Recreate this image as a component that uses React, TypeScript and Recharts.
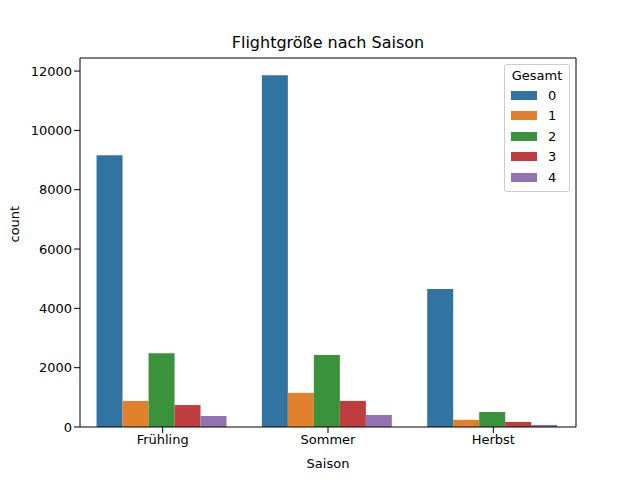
import React from 'react';
import { BarChart, Bar, XAxis, YAxis } from 'recharts';

const seasons = ['Frühling', 'Sommer', 'Herbst'];
const groups = ['0', '1', '2', '3', '4'];
const colors = ['#3274a1', '#e1812c', '#3a923a', '#c03d3e', '#9372b2'];
const g0 = [9160, 11860, 4650];
const g1 = [880, 1150, 240];
const g2 = [2490, 2430, 505];
const g3 = [740, 880, 170];
const g4 = [370, 405, 70];
const yTicks = [0, 2000, 4000, 6000, 8000, 10000, 12000];

const series = [g0, g1, g2, g3, g4];
const data = seasons.map((s, i) => {
  const row: any = { season: s };
  groups.forEach((g, j) => (row[g] = series[j][i]));
  return row;
});

const LegendBox = () => (
  <div style={{ position: 'absolute', left: 504, top: 64, width: 66, border: '1px solid #ccc', borderRadius: 3, background: '#fff', padding: '3px 6px', fontSize: 13, color: '#000', boxSizing: 'border-box' }}>
    <div style={{ textAlign: 'center', marginBottom: 2 }}>Gesamt</div>
    {groups.map((g, i) => (
      <div key={g} style={{ display: 'flex', alignItems: 'center', height: 20.5 }}>
        <span style={{ width: 26, height: 9, background: colors[i], display: 'inline-block', marginRight: 11 }} />
        <span>{g}</span>
      </div>
    ))}
  </div>
);

export default function App() {
  return (
    <div style={{ position: 'fixed', top: 0, left: 0, width: 640, height: 480, background: '#fff', fontFamily: 'DejaVu Sans' }}>
      <div style={{ position: 'absolute', top: 33, left: 80, width: 496, textAlign: 'center', fontSize: 16 }}>Flightgröße nach Saison</div>
      <BarChart width={640} height={480} data={data} margin={{ top: 58, right: 64, bottom: 0, left: 0 }} barCategoryGap="10%" barGap={0}>
        <XAxis dataKey="season" height={53} tick={{ fill: '#000', fontSize: 13 }} tickLine={{ stroke: '#000' }} axisLine={{ stroke: '#000' }}
          label={{ value: 'Saison', position: 'insideBottom', offset: 12, fill: '#000', fontSize: 13 }} />
        <YAxis width={80} domain={[0, 12440]} ticks={yTicks} tick={{ fill: '#000', fontSize: 13 }} tickLine={{ stroke: '#000' }} axisLine={{ stroke: '#000' }}
          label={{ value: 'count', angle: -90, position: 'insideLeft', offset: 14, fill: '#000', fontSize: 13 }} />
        {groups.map((g, i) => (
          <Bar key={g} dataKey={g} fill={colors[i]} isAnimationActive={false} />
        ))}
        <line x1={80} y1={58} x2={576} y2={58} stroke="#000" />
        <line x1={576} y1={58} x2={576} y2={427} stroke="#000" />
      </BarChart>
      <LegendBox />
    </div>
  );
}
